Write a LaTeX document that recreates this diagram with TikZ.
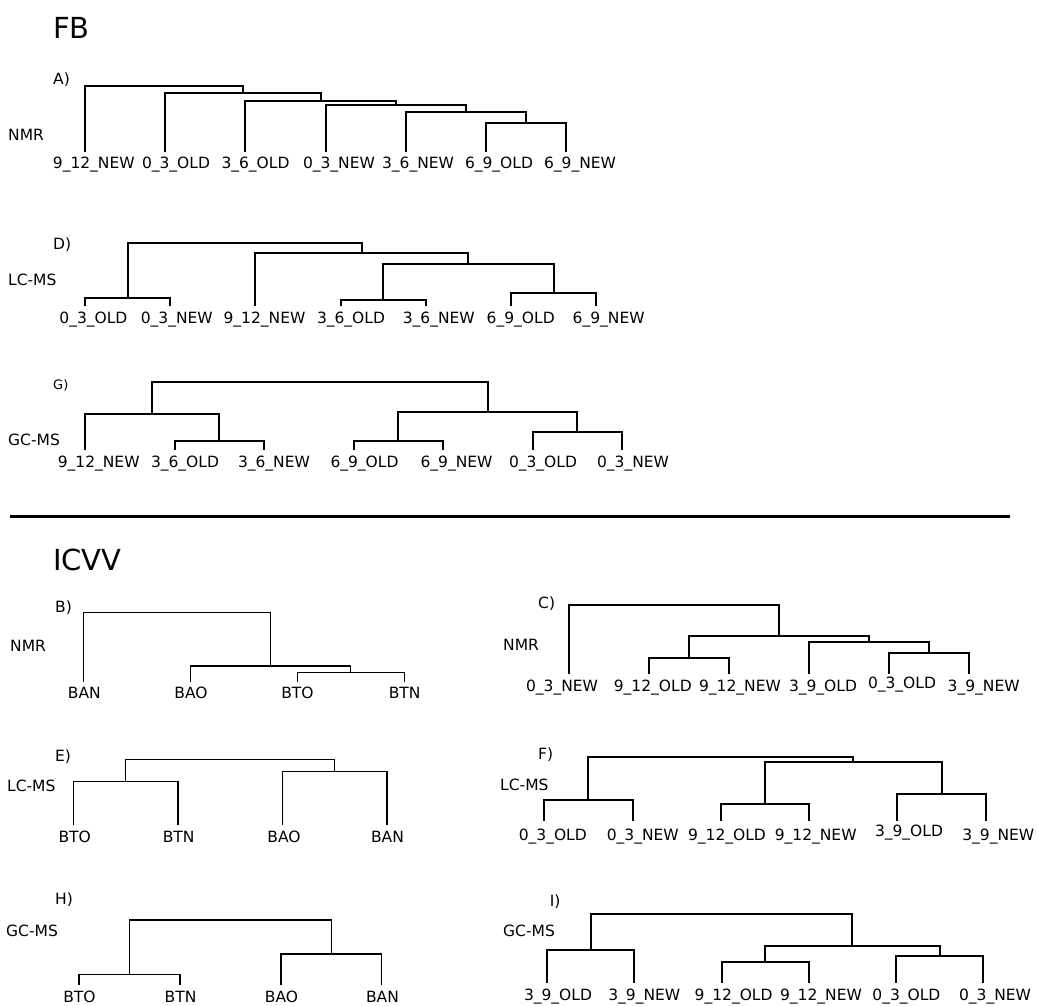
\documentclass[tikz,border=0pt]{standalone}
\usepackage{fontspec}
\setmainfont{DejaVu Sans}
\usepackage{tikz}

\tikzset{
  leaf/.style={font=\fontsize{15.5}{18}\selectfont, inner sep=0pt, anchor=base},
  side/.style={font=\fontsize{15.5}{18}\selectfont, inner sep=0pt, anchor=west},
  head/.style={font=\fontsize{29}{34}\selectfont, inner sep=0pt, anchor=west},
  thick tree/.style={line width=2pt},
  thin tree/.style={line width=1.4pt}
}

\begin{document}
\begin{tikzpicture}[x=1pt,y=-1pt]
\useasboundingbox (0,0) rectangle (1037,1005);

% FB
\node[head] (fb) at (53,28) {FB};

% A) NMR
\node[side] (la) at (53,80) {A)};
\node[side] (na) at (8,135) {NMR};
\coordinate (a1) at (85,151.5);
\coordinate (a2) at (165.2,151.5);
\coordinate (a3) at (245.4,151.5);
\coordinate (a4) at (325.6,151.5);
\coordinate (a5) at (405.8,151.5);
\coordinate (a6) at (486,151.5);
\coordinate (a7) at (566.2,151.5);
\node[leaf] (a1l) at (93.8,168) {9\_12\_NEW};
\node[leaf] (a2l) at (176,168) {0\_3\_OLD};
\node[leaf] (a3l) at (255.5,168) {3\_6\_OLD};
\node[leaf] (a4l) at (339,168) {0\_3\_NEW};
\node[leaf] (a5l) at (418,168) {3\_6\_NEW};
\node[leaf] (a6l) at (499,168) {6\_9\_OLD};
\node[leaf] (a7l) at (580,168) {6\_9\_NEW};
\coordinate (am1) at (526.1,123);
\coordinate (am2) at (465.95,112);
\coordinate (am3) at (395.8,105);
\coordinate (am4) at (320.6,100.5);
\coordinate (am5) at (242.9,93.3);
\coordinate (am6) at (164,86);
\draw[thick tree] (a6) |- (am1) -| (a7);
\draw[thick tree] (a5) |- (am2) -| (am1);
\draw[thick tree] (a4) |- (am3) -| (am2);
\draw[thick tree] (a3) |- (am4) -| (am3);
\draw[thick tree] (a2) |- (am5) -| (am4);
\draw[thick tree] (a1) |- (am6) -| (am5);

% D) LC-MS
\node[side] (ld) at (53,245) {D)};
\node[side] (nd) at (8,280) {LC-MS};
\coordinate (d1) at (85,306);
\coordinate (d2) at (170.2,306);
\coordinate (d3) at (255.4,306);
\coordinate (d4) at (340.6,306);
\coordinate (d5) at (425.8,306);
\coordinate (d6) at (511,306);
\coordinate (d7) at (596.2,306);
\node[leaf] (d1l) at (93.4,323) {0\_3\_OLD};
\node[leaf] (d2l) at (176.8,323) {0\_3\_NEW};
\node[leaf] (d3l) at (264.5,323) {9\_12\_NEW};
\node[leaf] (d4l) at (351,323) {3\_6\_OLD};
\node[leaf] (d5l) at (438.8,323) {3\_6\_NEW};
\node[leaf] (d6l) at (520.7,323) {6\_9\_OLD};
\node[leaf] (d7l) at (608.7,323) {6\_9\_NEW};
\coordinate (dm1) at (127.6,298);
\coordinate (dm2) at (383.2,300);
\coordinate (dm3) at (553.6,293);
\coordinate (dm4) at (468.4,263.5);
\coordinate (dm5) at (361.9,253);
\coordinate (dm6) at (244.75,243);
\draw[thick tree] (d1) |- (dm1) -| (d2);
\draw[thick tree] (d4) |- (dm2) -| (d5);
\draw[thick tree] (d6) |- (dm3) -| (d7);
\draw[thick tree] (dm2) |- (dm4) -| (dm3);
\draw[thick tree] (d3) |- (dm5) -| (dm4);
\draw[thick tree] (dm1) |- (dm6) -| (dm5);

% G) GC-MS
\node[side, font=\fontsize{13}{15}\selectfont] (lg) at (53,385) {G)};
\node[side] (ng) at (8,440) {GC-MS};
\coordinate (g1) at (85,450);
\coordinate (g2) at (174.5,450);
\coordinate (g3) at (264,450);
\coordinate (g4) at (353.5,450);
\coordinate (g5) at (443,450);
\coordinate (g6) at (532.5,450);
\coordinate (g7) at (622,450);
\node[leaf] (g1l) at (98.7,467) {9\_12\_NEW};
\node[leaf] (g2l) at (185,467) {3\_6\_OLD};
\node[leaf] (g3l) at (274,467) {3\_6\_NEW};
\node[leaf] (g4l) at (364.5,467) {6\_9\_OLD};
\node[leaf] (g5l) at (456.5,467) {6\_9\_NEW};
\node[leaf] (g6l) at (543,467) {0\_3\_OLD};
\node[leaf] (g7l) at (633,467) {0\_3\_NEW};
\coordinate (gm1) at (219.25,440.5);
\coordinate (gm2) at (152.1,414);
\coordinate (gm3) at (398.25,440.5);
\coordinate (gm4) at (577.25,432);
\coordinate (gm5) at (487.75,411.5);
\coordinate (gm6) at (319.9,381.5);
\draw[thick tree] (g2) |- (gm1) -| (g3);
\draw[thick tree] (g1) |- (gm2) -| (gm1);
\draw[thick tree] (g4) |- (gm3) -| (g5);
\draw[thick tree] (g6) |- (gm4) -| (g7);
\draw[thick tree] (gm3) |- (gm5) -| (gm4);
\draw[thick tree] (gm2) |- (gm6) -| (gm5);

% separator
\coordinate (s1) at (10,516);
\coordinate (s2) at (1010,516);
\draw[line width=3pt] (s1) -- (s2);

% ICVV
\node[head] (icvv) at (53,560) {ICVV};

% B) NMR
\node[side] (lb) at (55,608) {B)};
\node[side] (nb) at (10,646) {NMR};
\coordinate (b1) at (83.5,681.7);
\coordinate (b2) at (190.4,681.7);
\coordinate (b3) at (297.3,681.7);
\coordinate (b4) at (404.2,681.7);
\node[leaf] (b1l) at (84.3,698.7) {BAN};
\node[leaf] (b2l) at (191,698.7) {BAO};
\node[leaf] (b3l) at (297.5,698.7) {BTO};
\node[leaf] (b4l) at (404.7,698.7) {BTN};
\coordinate (bm1) at (350.75,672.7);
\coordinate (bm2) at (270.6,666);
\coordinate (bm3) at (177.05,612.7);
\draw[thin tree] (b3) |- (bm1) -| (b4);
\draw[thin tree] (b2) |- (bm2) -| (bm1);
\draw[thin tree] (b1) |- (bm3) -| (bm2);

% C) NMR
\node[side] (lc) at (538,604) {C)};
\node[side] (nc) at (503,645) {NMR};
\coordinate (c1) at (568.7,673.5);
\coordinate (c2) at (649.2,673.5);
\coordinate (c3) at (729,673.5);
\coordinate (c4) at (809.3,673.5);
\coordinate (c5) at (889,673.5);
\coordinate (c6) at (969.3,673.5);
\node[leaf] (c1l) at (562,691.7) {0\_3\_NEW};
\node[leaf] (c2l) at (652.8,691.7) {9\_12\_OLD};
\node[leaf] (c3l) at (740,691.7) {9\_12\_NEW};
\node[leaf] (c4l) at (823,691.7) {3\_9\_OLD};
\node[leaf] (c5l) at (902,688.5) {0\_3\_OLD};
\node[leaf] (c6l) at (983.7,691.7) {3\_9\_NEW};
\coordinate (cm1) at (689.1,658.3);
\coordinate (cm2) at (929.15,652.7);
\coordinate (cm3) at (869.2,642.3);
\coordinate (cm4) at (779.15,636);
\coordinate (cm5) at (673.9,605);
\draw[thick tree] (c2) |- (cm1) -| (c3);
\draw[thick tree] (c5) |- (cm2) -| (c6);
\draw[thick tree] (c4) |- (cm3) -| (cm2);
\draw[thick tree] (cm1) |- (cm4) -| (cm3);
\draw[thick tree] (c1) |- (cm5) -| (cm4);

% E) LC-MS
\node[side] (le) at (55,757) {E)};
\node[side] (ne) at (7,786) {LC-MS};
\coordinate (e1) at (73.3,825);
\coordinate (e2) at (177.8,825);
\coordinate (e3) at (282.3,825);
\coordinate (e4) at (386.8,825);
\node[leaf] (e1l) at (74.7,842) {BTO};
\node[leaf] (e2l) at (178.7,842) {BTN};
\node[leaf] (e3l) at (284,842) {BAO};
\node[leaf] (e4l) at (387.5,842) {BAN};
\coordinate (em1) at (125.55,781.7);
\coordinate (em2) at (334.55,771.7);
\coordinate (em3) at (230.05,759.3);
\draw[thin tree] (e1) |- (em1) -| (e2);
\draw[thin tree] (e3) |- (em2) -| (e4);
\draw[thin tree] (em1) |- (em3) -| (em2);

% F) LC-MS
\node[side] (lf) at (538,755) {F)};
\node[side] (nf) at (500,785) {LC-MS};
\coordinate (f1) at (543.7,821);
\coordinate (f2) at (632.7,821);
\coordinate (f3) at (721,821);
\coordinate (f4) at (809.3,821);
\coordinate (f5) at (897,821);
\coordinate (f6) at (986.3,821);
\node[leaf] (f1l) at (552.8,840.7) {0\_3\_OLD};
\node[leaf] (f2l) at (642.8,840.7) {0\_3\_NEW};
\node[leaf] (f3l) at (727,840.7) {9\_12\_OLD};
\node[leaf] (f4l) at (815.7,840.7) {9\_12\_NEW};
\node[leaf] (f5l) at (909,836.7) {3\_9\_OLD};
\node[leaf] (f6l) at (998.3,840.7) {3\_9\_NEW};
\coordinate (fm1) at (588.2,800);
\coordinate (fm2) at (765.15,804);
\coordinate (fm3) at (941.65,794);
\coordinate (fm4) at (853.4,761.7);
\coordinate (fm5) at (720.8,756.7);
\draw[thick tree] (f1) |- (fm1) -| (f2);
\draw[thick tree] (f3) |- (fm2) -| (f4);
\draw[thick tree] (f5) |- (fm3) -| (f6);
\draw[thick tree] (fm2) |- (fm4) -| (fm3);
\draw[thick tree] (fm1) |- (fm5) -| (fm4);

% H) GC-MS
\node[side] (lh) at (55,900) {H)};
\node[side] (nh) at (6,931) {GC-MS};
\coordinate (h1) at (79,985);
\coordinate (h2) at (179.9,985);
\coordinate (h3) at (280.8,985);
\coordinate (h4) at (381.7,985);
\node[leaf] (h1l) at (79.5,1002) {BTO};
\node[leaf] (h2l) at (180.5,1002) {BTN};
\node[leaf] (h3l) at (281.5,1002) {BAO};
\node[leaf] (h4l) at (382.5,1002) {BAN};
\coordinate (hm1) at (129.45,974.3);
\coordinate (hm2) at (331.25,954);
\coordinate (hm3) at (230.35,920);
\draw[thin tree] (h1) |- (hm1) -| (h2);
\draw[thin tree] (h3) |- (hm2) -| (h4);
\draw[thin tree] (hm1) |- (hm3) -| (hm2);

% I) GC-MS
\node[side] (li) at (549.6,902) {I)};
\node[side] (ni) at (503,931) {GC-MS};
\coordinate (i1) at (547.1,983);
\coordinate (i2) at (634.3,983);
\coordinate (i3) at (721.5,983);
\coordinate (i4) at (808.7,983);
\coordinate (i5) at (895.9,983);
\coordinate (i6) at (983.1,983);
\node[leaf] (i1l) at (558,1000) {3\_9\_OLD};
\node[leaf] (i2l) at (644.3,1000) {3\_9\_NEW};
\node[leaf] (i3l) at (733.6,1000) {9\_12\_OLD};
\node[leaf] (i4l) at (821,1000) {9\_12\_NEW};
\node[leaf] (i5l) at (906.4,1000) {0\_3\_OLD};
\node[leaf] (i6l) at (995,1000) {0\_3\_NEW};
\coordinate (im1) at (590.7,950);
\coordinate (im2) at (765.1,961.7);
\coordinate (im3) at (939.5,956);
\coordinate (im4) at (852.3,946);
\coordinate (im5) at (721.5,914);
\draw[thick tree] (i1) |- (im1) -| (i2);
\draw[thick tree] (i3) |- (im2) -| (i4);
\draw[thick tree] (i5) |- (im3) -| (i6);
\draw[thick tree] (im2) |- (im4) -| (im3);
\draw[thick tree] (im1) |- (im5) -| (im4);
\end{tikzpicture}
\end{document}
